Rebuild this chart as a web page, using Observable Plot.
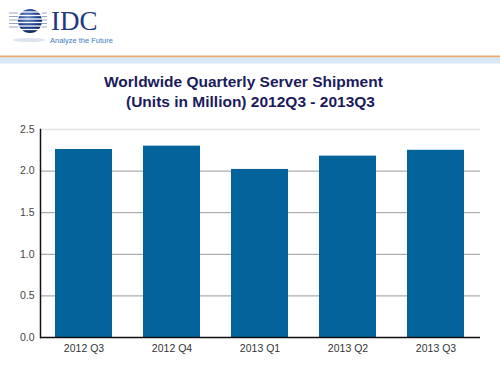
<!DOCTYPE html>
<html>
<head>
<meta charset="utf-8">
<script src="https://cdn.jsdelivr.net/npm/d3@7"></script>
<script src="https://cdn.jsdelivr.net/npm/@observablehq/plot@0.6"></script>
<style>
  html, body { margin: 0; padding: 0; background: #fff; }
  body { width: 500px; height: 366px; position: relative; overflow: hidden; font-family: "Liberation Sans", Arial, sans-serif; }
  .abs { position: absolute; }
  .title { font-weight: bold; font-size: 15.5px; color: #1b1b5c; white-space: pre; }
</style>
</head>
<body>
<svg class="abs" style="left:0;top:0" width="500" height="66">
  <defs>
    <radialGradient id="g" cx="40%" cy="35%" r="70%">
      <stop offset="0" stop-color="#6f8fc8"/>
      <stop offset="0.6" stop-color="#1f3f8f"/>
      <stop offset="1" stop-color="#0d1f55"/>
    </radialGradient>
  </defs>
  <ellipse cx="29" cy="40" rx="16" ry="2" fill="#dde4ee"/>
  <circle cx="30" cy="21" r="12" fill="url(#g)"/>
  <g stroke="#fff" stroke-width="1.3">
    <line x1="16" y1="12" x2="44" y2="12"/>
    <line x1="16" y1="15.5" x2="44" y2="15.5"/>
    <line x1="16" y1="19" x2="44" y2="19"/>
    <line x1="16" y1="22.5" x2="44" y2="22.5"/>
    <line x1="16" y1="26" x2="44" y2="26"/>
    <line x1="16" y1="29.5" x2="44" y2="29.5"/>
  </g>
  <g stroke="#7d8fb8" stroke-width="0.8">
    <line x1="9" y1="13" x2="18" y2="13"/>
    <line x1="9" y1="16.5" x2="18" y2="16.5"/>
    <line x1="9" y1="20" x2="18" y2="20"/>
    <line x1="9" y1="23.5" x2="18" y2="23.5"/>
    <line x1="9" y1="27" x2="18" y2="27"/>
    <line x1="42" y1="13" x2="47" y2="13"/>
    <line x1="42" y1="16.5" x2="47" y2="16.5"/>
    <line x1="42" y1="20" x2="47" y2="20"/>
    <line x1="42" y1="23.5" x2="47" y2="23.5"/>
    <line x1="42" y1="27" x2="47" y2="27"/>
  </g>
  <text x="51" y="30" font-family="'Liberation Serif', 'DejaVu Serif', serif" font-size="27" fill="#1f3a80">IDC</text>
  <text x="50" y="43" font-family="'Liberation Sans', Arial, sans-serif" font-size="7.5" fill="#3a7cc2">Analyze the Future</text>
  <rect x="0" y="55.5" width="500" height="2" fill="#e6aa72"/>
  <rect x="0" y="57.5" width="500" height="6" fill="#d8e8f5"/>
</svg>
<div class="abs title" style="left:104px;top:73px">Worldwide Quarterly Server Shipment</div>
<div class="abs title" style="left:126px;top:93px">(Units in Million) 2012Q3 - 2013Q3</div>
<div id="chart" class="abs" style="left:0;top:110px"></div>
<script>
const quarters = ["2012 Q3", "2012 Q4", "2013 Q1", "2013 Q2", "2013 Q3"];
const shipments = [2.26, 2.30, 2.02, 2.18, 2.25];
const yTicks = [0, 0.5, 1.0, 1.5, 2.0, 2.5];

const data = quarters.map((q, i) => ({quarter: q, value: shipments[i]}));

const chart = Plot.plot({
  width: 500,
  height: 256,
  marginTop: 19,
  marginBottom: 29,
  marginLeft: 40,
  marginRight: 20,
  style: {fontFamily: "'Liberation Sans', Arial, sans-serif", fontSize: "10.5px", color: "#444", background: "transparent"},
  x: {domain: quarters, paddingInner: 0.35, paddingOuter: 0.175, label: null},
  y: {domain: [0, 2.5], label: null},
  marks: [
    Plot.ruleY(yTicks.filter(t => t > 0 && t < 2.5), {stroke: "#999", strokeWidth: 1}),
    Plot.ruleY([2.5], {stroke: "#e4e4e4", strokeWidth: 1.5}),
    Plot.barY(data, {x: "quarter", y: "value", fill: "#03649b"}),
    Plot.axisY({ticks: yTicks, tickSize: 0, tickPadding: 6, tickFormat: d3.format(".1f"), label: null, fill: "#444"}),
    Plot.axisX({tickSize: 0, tickPadding: 7, label: null, fill: "#333"}),
    Plot.ruleY([0], {stroke: "#111", strokeWidth: 1.5}),
    Plot.frame({anchor: "left", stroke: "#111", strokeWidth: 1.5})
  ]
});
document.getElementById("chart").appendChild(chart);
</script>
</body>
</html>
